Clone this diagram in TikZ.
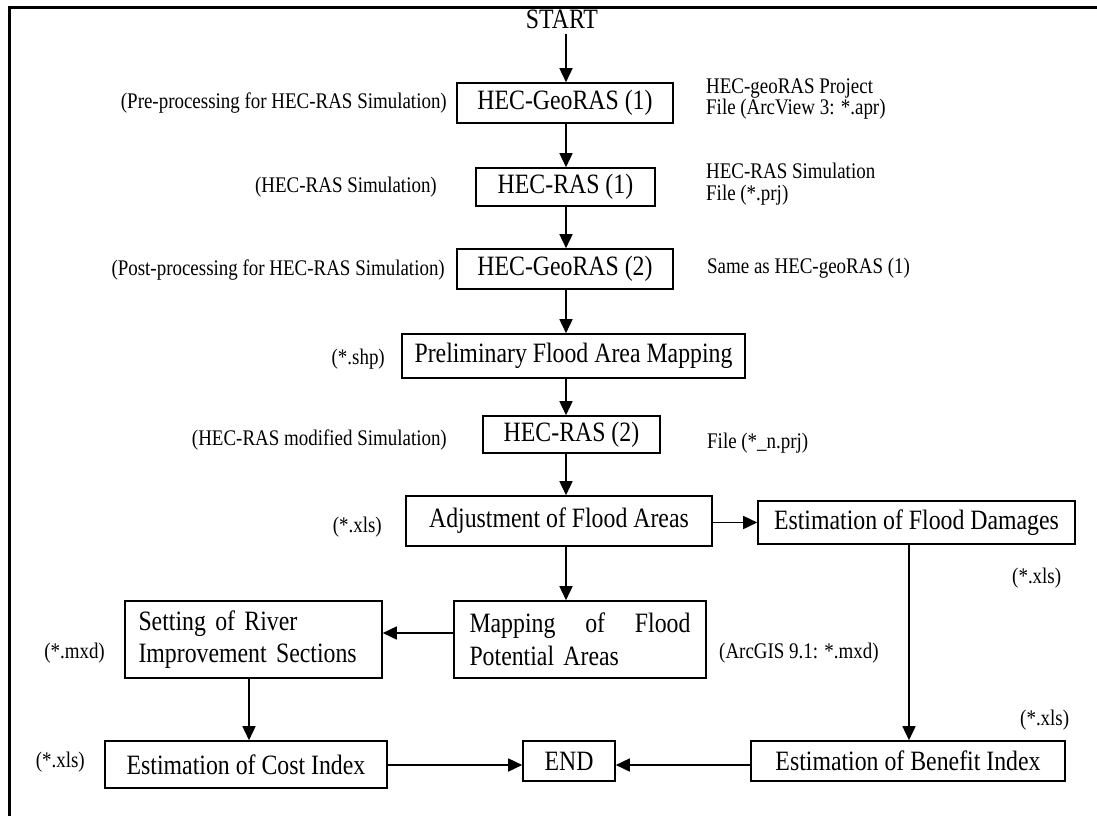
\documentclass[tikz,border=0pt]{standalone}
\usepackage{fontspec}
\setmainfont{Liberation Serif}
\newfontfamily\cf[FakeStretch=0.85]{Liberation Serif}
\usetikzlibrary{arrows.meta}
\begin{document}
\begin{tikzpicture}[x=1pt,y=-1pt,
  bx/.style={draw=black, line width=1.6pt, inner sep=0pt, font=\cf\fontsize{28}{32.5}\selectfont},
  lb/.style={inner sep=0pt, font=\cf\fontsize{22.3}{21.5}\selectfont},
  arr/.style={line width=1.6pt, -{Triangle[length=14pt,width=13pt]}},
  frame/.style={line width=3pt}]
\useasboundingbox (0,0) rectangle (1097,816);
\draw[frame] (9.5,816) |- (1097,8);

% main boxes
\node[inner sep=5pt, font=\cf\fontsize{28}{30}\selectfont] (start) at (562,19) {START};
\node[bx, minimum width=216pt, minimum height=40pt] (g1) at (565,103) {HEC-GeoRAS (1)};
\node[bx, minimum width=179pt, minimum height=38pt] (r1) at (565.5,187) {HEC-RAS (1)};
\node[bx, minimum width=216pt, minimum height=40pt] (g2) at (565,269) {HEC-GeoRAS (2)};
\node[bx, minimum width=343pt, minimum height=44pt] (pre) at (573.5,356) {Preliminary Flood Area Mapping};
\node[bx, minimum width=177pt, minimum height=37pt] (r2) at (571.5,434.5) {HEC-RAS (2)};
\node[bx, minimum width=306pt, minimum height=50pt] (adj) at (559,521) {Adjustment of Flood Areas};
\node[bx, minimum width=317pt, minimum height=43pt] (dmg) at (916.5,522.5) {Estimation of Flood Damages};
\node[bx, minimum width=252pt, minimum height=77pt, text width=221pt, align=left] (map) at (580,639.5) {Mapping\hfill of\hfill Flood\\Potential Areas};
\node[bx, minimum width=257pt, minimum height=77pt, text width=230pt, align=left] (set) at (253.5,639.5) {Setting of River\\Improvement Sections};
\node[bx, minimum width=282pt, minimum height=47pt] (cost) at (246,764.5) {Estimation of Cost Index};
\node[bx, minimum width=92pt, minimum height=40pt] (end) at (569,761) {END};
\node[bx, minimum width=314pt, minimum height=40pt] (ben) at (908,761) {Estimation of Benefit Index};

% left labels
\node[lb, anchor=east] (l1) at (447,103) {(Pre-processing for HEC-RAS Simulation)};
\node[lb, anchor=east] (l2) at (437,187) {(HEC-RAS Simulation)};
\node[lb, anchor=east] (l3) at (445,270) {(Post-processing for HEC-RAS Simulation)};
\node[lb, anchor=east] (l4) at (385,359) {(*.shp)};
\node[lb, anchor=east] (l5) at (447,440) {(HEC-RAS modified Simulation)};
\node[lb, anchor=east] (l6) at (382,527) {(*.xls)};
\node[lb, anchor=east] (l7) at (105,653) {(*.mxd)};
\node[lb, anchor=east] (l8) at (85,762) {(*.xls)};

% right labels
\node[lb, anchor=west, align=left] (q1) at (706,99) {HEC-geoRAS Project\\File (ArcView 3: *.apr)};
\node[lb, anchor=west, align=left] (q2) at (706,184) {HEC-RAS Simulation\\File (*.prj)};
\node[lb, anchor=west] (q3) at (707,268) {Same as HEC-geoRAS (1)};
\node[lb, anchor=west] (q4) at (707,443) {File (*\_n.prj)};
\node[lb, anchor=west] (q5) at (1012,578) {(*.xls)};
\node[lb, anchor=west] (q6) at (719,653) {(ArcGIS 9.1: *.mxd)};
\node[lb, anchor=west] (q7) at (1020,720) {(*.xls)};

% connectors
\coordinate (col) at (566,0);
\coordinate (dcol) at (909,0);
\coordinate (scol) at (249,0);
\coordinate (mrow) at (0,633);
\coordinate (erow) at (0,765);
\draw[arr] (start.south -| col) -- (g1.north -| col);
\draw[arr] (g1.south -| col) -- (r1.north -| col);
\draw[arr] (r1.south -| col) -- (g2.north -| col);
\draw[arr] (g2.south -| col) -- (pre.north -| col);
\draw[arr] (pre.south -| col) -- (r2.north -| col);
\draw[arr] (r2.south -| col) -- (adj.north -| col);
\draw[arr] (adj.south -| col) -- (map.north -| col);
\draw[arr] (adj.east |- dmg.west) -- (dmg.west);
\draw[arr] (map.west |- mrow) -- (set.east |- mrow);
\draw[arr] (set.south -| scol) -- (cost.north -| scol);
\draw[arr] (dmg.south -| dcol) -- (ben.north -| dcol);
\draw[arr] (cost.east |- erow) -- (end.west |- erow);
\draw[arr] (ben.west |- erow) -- (end.east |- erow);
\end{tikzpicture}
\end{document}
